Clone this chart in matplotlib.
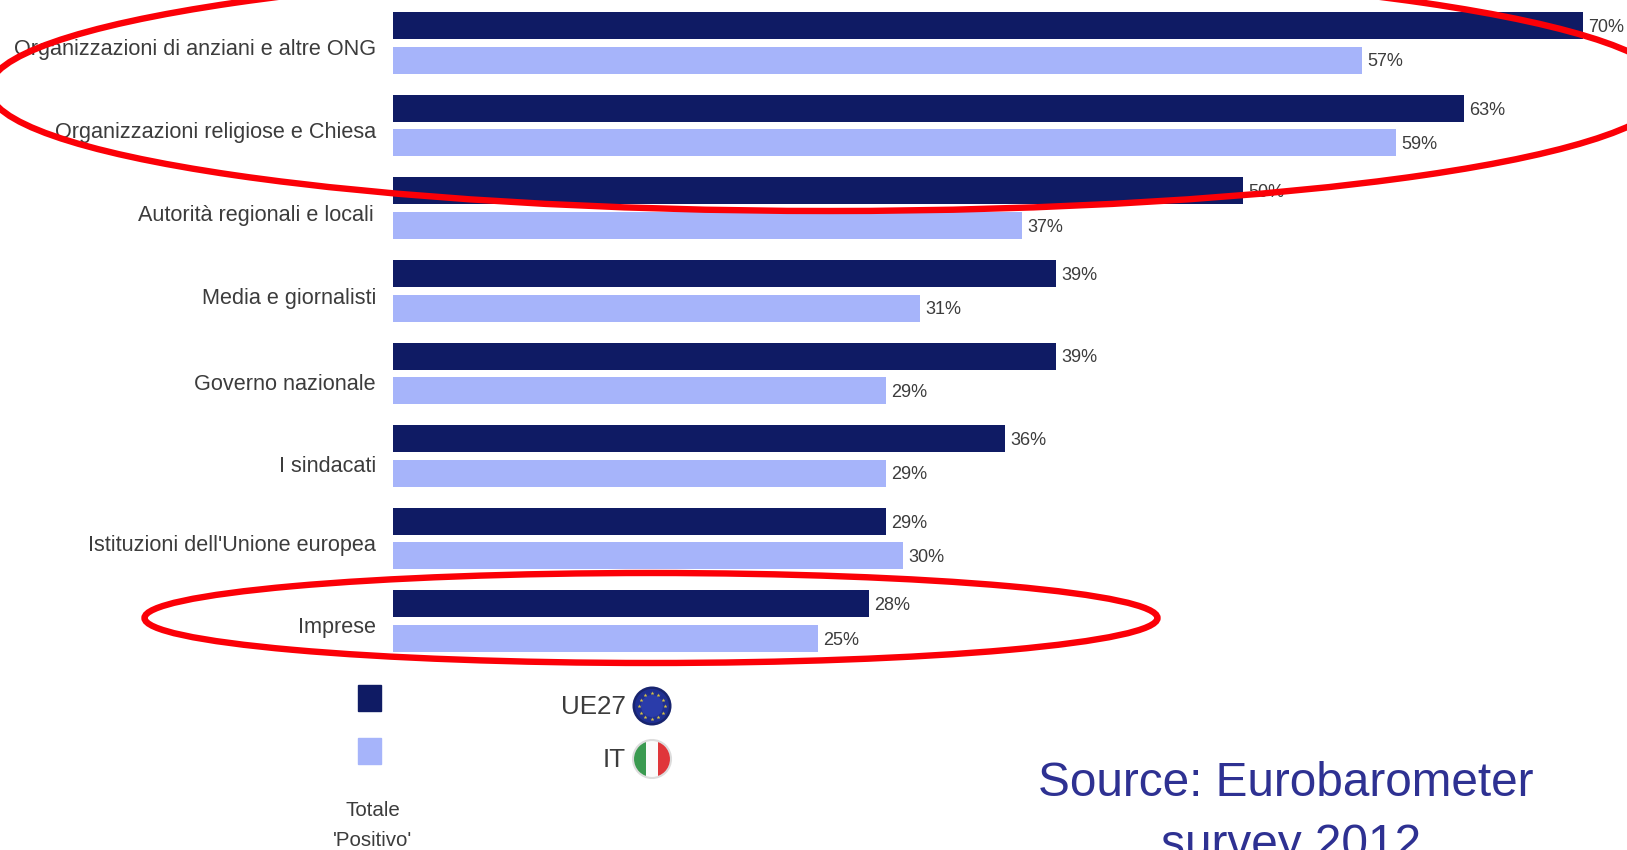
import numpy as np
import matplotlib
matplotlib.use("Agg")
import matplotlib.pyplot as plt
from matplotlib.patches import Ellipse, Circle, Rectangle

plt.rcParams['font.family'] = ['Liberation Sans', 'DejaVu Sans']

categorie = ["Organizzazioni di anziani e altre ONG", "Organizzazioni religiose e Chiesa",
             "Autorità regionali e locali", "Media e giornalisti", "Governo nazionale",
             "I sindacati", "Istituzioni dell'Unione europea", "Imprese"]
ue27 = [70, 63, 50, 39, 39, 36, 29, 28]
it = [57, 59, 37, 31, 29, 29, 30, 25]

W, H = 1627, 850
BLU = "#0f1b64"
AZZURRO = "#a6b4fa"
GRIGIO = "#3c3c3c"
ROSSO = "#fb0007"
label_dy = [7, 7, 7, 8, 11, 10, 7, 6]  # le etichette non sono proprio centrate
label_dx = [12, 12, 14, 12, 12, 12, 12, 12]

fig = plt.figure(figsize=(W / 100, H / 100), dpi=100, facecolor="white")

# asse dati: 1% = 17 px, gruppi ogni 82.6 px
x0 = 392.7
ax = fig.add_axes([x0 / W, 0, 1 - x0 / W, 1])
ax.set_xlim(0, (W - x0) / 17.0)
ax.set_ylim((H - 43) / 82.6, -43 / 82.6)
ax.axis("off")

y = np.arange(len(categorie))
ax.barh(y - 0.209, ue27, height=0.327, color=BLU)
ax.barh(y + 0.209, it, height=0.327, color=AZZURRO)
for serie, off in ((ue27, -0.209), (it, 0.209)):
    for i, v in enumerate(serie):
        ax.annotate(f"{v}%", (v, i + off), xytext=(4.2, -1.2), textcoords="offset points",
                    ha="left", va="center", fontsize=13, color=GRIGIO, annotation_clip=False)

for i, nome in enumerate(categorie):
    ax.annotate(nome, (0, i), xytext=(-label_dx[i], -label_dy[i] * 0.72), textcoords="offset points",
                ha="right", va="center", fontsize=15.6, color=GRIGIO, annotation_clip=False)

# sovrapposizione in pixel: ellissi rosse, legenda, fonte
ov = fig.add_axes([0, 0, 1, 1], zorder=5)
ov.set_xlim(0, W)
ov.set_ylim(H, 0)
ov.axis("off")
ov.patch.set_alpha(0)

ov.add_patch(Ellipse((829, 89), 2 * 840, 2 * 122, fill=False, ec=ROSSO, lw=4.6))
ov.add_patch(Ellipse((651, 618), 1013, 90, fill=False, ec=ROSSO, lw=4.6))

ov.add_patch(Rectangle((358, 685), 23, 26, color=BLU))
ov.add_patch(Rectangle((358, 738), 23, 26, color=AZZURRO))
ov.text(626, 707, "UE27", ha="right", va="center", fontsize=18.7, color=GRIGIO)
ov.text(626, 760, "IT", ha="right", va="center", fontsize=18.7, color=GRIGIO)
ov.text(373, 811, "Totale", ha="center", va="center", fontsize=14.8, color=GRIGIO)
ov.text(373, 841, "'Positivo'", ha="center", va="center", fontsize=14.8, color=GRIGIO)

# bandiera UE
for r, col in ((19.5, "#18246f"), (17, "#1f2f92"), (11, "#2a3caa")):
    ov.add_patch(Circle((652, 706), r, color=col, lw=0))
ang = np.arange(12) * np.pi / 6
ov.scatter(652 + 13 * np.cos(ang), 706 + 13 * np.sin(ang), marker="*", s=9, color="#d9c445", lw=0)

# bandiera IT
cerchio = Circle((652, 759), 19, transform=ov.transData, fc="none", ec="none")
ov.add_patch(cerchio)
for xs, col in zip((633, 646, 658), ("#3a9a50", "#fbfbfb", "#e0363a")):
    r = Rectangle((xs, 740), 13, 38, color=col, lw=0)
    ov.add_patch(r)
    r.set_clip_path(cerchio)
ov.add_patch(Circle((652, 759), 19, fc="none", ec="#dcdcdc", lw=1.5))

ov.text(1286, 784, "Source: Eurobarometer", ha="center", va="center", fontsize=34.4, color="#2e3192")
ov.text(1291, 846, "survey 2012", ha="center", va="center", fontsize=34.4, color="#2e3192")

fig.savefig("out.png", dpi=100)
